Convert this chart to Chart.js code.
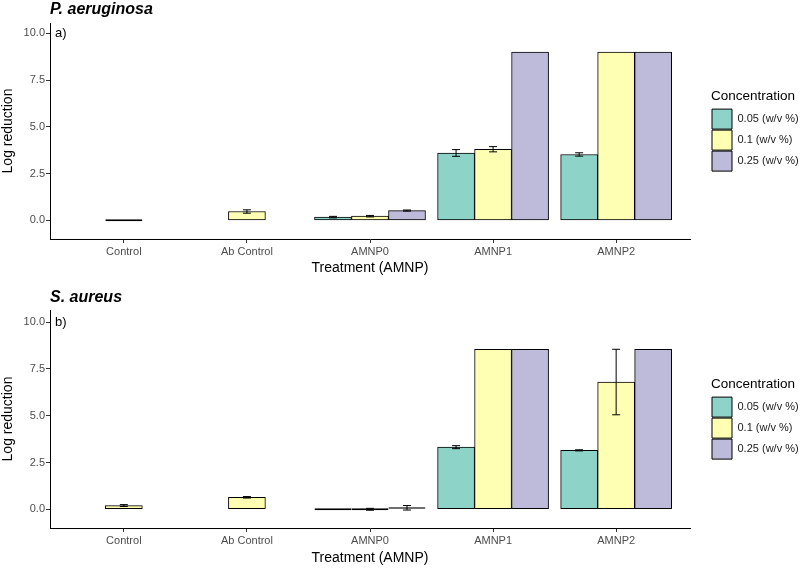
<!DOCTYPE html>
<html><head><meta charset="utf-8">
<script src="https://cdn.jsdelivr.net/npm/chart.js@4/dist/chart.umd.min.js"></script>
<style>
html,body{margin:0;padding:0;background:#fff;}
#wrap{position:relative;width:800px;height:568px;overflow:hidden;background:#fff;}
canvas{position:absolute;left:0;}
</style></head><body>
<div id="wrap">
<canvas id="cA" width="800" height="284" style="top:0"></canvas>
<canvas id="cB" width="800" height="284" style="top:284px"></canvas>
</div>
<script>
// ---- data ----
const categories = ['Control', 'Ab Control', 'AMNP0', 'AMNP1', 'AMNP2'];
const seriesLabels = ['0.05 (w/v %)', '0.1 (w/v %)', '0.25 (w/v %)'];
const yTicks = [0, 2.5, 5, 7.5, 10];

// P. aeruginosa (a)
const paeru005 = [null, null, 0.17, 3.60, 3.52];
const paeru01  = [0, 0.47, 0.22, 3.80, 9.0];
const paeru025 = [null, null, 0.52, 9.0, 9.0];
const paeruErr005 = [null, null, 0.04, 0.18, 0.09];
const paeruErr01  = [0, 0.09, 0.04, 0.14, 0];
const paeruErr025 = [null, null, 0.03, 0, 0];

// S. aureus (b)
const saur005 = [null, null, 0, 3.32, 3.15];
const saur01  = [0.20, 0.64, 0, 8.55, 6.8];
const saur025 = [null, null, 0.08, 8.55, 8.55];
const saurErr005 = [null, null, 0, 0.08, 0.03];
const saurErr01  = [0.05, 0.04, 0.05, 0, 1.75];
const saurErr025 = [null, null, 0.12, 0, 0];

const seriesColors = ['#8DD3C7', '#FFFFB3', '#BEBADA'];
const FONT = "'Liberation Sans', Arial, sans-serif";

const errorBarPlugin = {
  id: 'errorBars',
  afterDatasetsDraw(chart) {
    const ctx = chart.ctx;
    const ys = chart.scales.y;
    chart.data.datasets.forEach((ds, i) => {
      const meta = chart.getDatasetMeta(i);
      const errs = ds.errors;
      if (!errs) return;
      meta.data.forEach((bar, j) => {
        const v = ds.data[j], e = errs[j];
        if (v == null || e == null || e <= 0) return;
        const x = bar.x;
        const yt = ys.getPixelForValue(v + e), yb = ys.getPixelForValue(v - e);
        ctx.save();
        ctx.strokeStyle = '#000';
        ctx.lineWidth = 1;
        ctx.beginPath();
        ctx.moveTo(x, yt); ctx.lineTo(x, yb);
        ctx.moveTo(x - 4, yt); ctx.lineTo(x + 4, yt);
        ctx.moveTo(x - 4, yb); ctx.lineTo(x + 4, yb);
        ctx.stroke();
        ctx.restore();
      });
    });
  }
};

const panelTextPlugin = {
  id: 'panelText',
  afterDraw(chart, args, opts) {
    const ctx = chart.ctx, a = chart.chartArea;
    ctx.save();
    ctx.fillStyle = '#000';
    ctx.textAlign = 'left';
    ctx.font = 'italic bold 16px ' + FONT;
    ctx.textBaseline = 'alphabetic';
    ctx.fillText(opts.title, a.left, a.top - opts.titleGap);
    ctx.font = '13px ' + FONT;
    ctx.textBaseline = 'middle';
    ctx.fillText(opts.tag, a.left + 5, chart.scales.y.getPixelForValue(10));
    ctx.restore();
  }
};

function makeChart(id, cfg) {
  const gridOpts = { display: true, drawOnChartArea: false, drawTicks: true, tickLength: 4, color: '#333333', offset: false };
  const borderOpts = { display: true, color: '#000', width: 1 };
  return new Chart(document.getElementById(id), {
    type: 'bar',
    data: {
      labels: categories,
      datasets: cfg.series.map((d, k) => ({
        label: seriesLabels[k],
        data: d,
        errors: cfg.errors[k],
        backgroundColor: seriesColors[k],
        borderColor: '#000',
        borderWidth: 1,
        borderSkipped: false,
        inflateAmount: c => (c.raw != null && Math.abs(c.raw) < 0.1) ? 0 : 'auto',
        barThickness: 37,
        skipNull: true,
        minBarLength: 2
      }))
    },
    options: {
      responsive: false,
      animation: false,
      devicePixelRatio: 1,
      layout: { padding: { top: cfg.top, left: 0, right: 0, bottom: 0 } },
      scales: {
        x: {
          type: 'category',
          offset: true,
          grid: gridOpts,
          border: borderOpts,
          ticks: { font: { family: FONT, size: 11 }, color: '#4d4d4d', padding: 2, maxRotation: 0, autoSkip: false },
          title: { display: true, text: 'Treatment (AMNP)', font: { family: FONT, size: 14 }, color: '#000', padding: { top: 0, bottom: cfg.xTitlePad } },
          afterBuildTicks: s => { s._startValue = -0.6; s._valueRange = categories.length - 1 + 1.2; },
          afterFit: s => { s.height = cfg.xAxisH; }
        },
        y: {
          min: -1,
          max: cfg.ymax,
          grid: gridOpts,
          border: borderOpts,
          ticks: { font: { family: FONT, size: 11 }, color: '#4d4d4d', padding: 1, callback: v => Number(v).toFixed(1) },
          afterBuildTicks: s => { s.ticks = yTicks.map(v => ({ value: v })); },
          title: { display: true, text: 'Log reduction', font: { family: FONT, size: 14 }, color: '#000', padding: { top: 0, bottom: 0 } },
          afterFit: s => { s.width = 50; }
        },
        yR: {
          position: 'right',
          display: true,
          grid: { display: false },
          border: { display: false },
          ticks: { display: false },
          afterFit: s => { s.width = 21; }
        }
      },
      plugins: {
        legend: {
          position: 'right',
          align: 'center',
          fullSize: false,
          maxWidth: 89,
          title: { display: true, text: 'Concentration', color: '#000', font: { family: FONT, size: 13.5 }, position: 'start', padding: { top: 0, bottom: 2 } },
          labels: { boxWidth: 20, boxHeight: 20, padding: 1, color: '#1a1a1a', font: { family: FONT, size: 11 } }
        },
        tooltip: { enabled: false },
        panelText: { title: cfg.title, tag: cfg.tag, titleGap: cfg.titleGap }
      }
    },
    plugins: [errorBarPlugin, panelTextPlugin]
  });
}

makeChart('cA', {
  series: [paeru005, paeru01, paeru025],
  errors: [paeruErr005, paeruErr01, paeruErr025],
  title: 'P. aeruginosa', tag: 'a)', titleGap: 9.5,
  top: 23, ymax: 10.55, xAxisH: 45, xTitlePad: 7.6
});
makeChart('cB', {
  series: [saur005, saur01, saur025],
  errors: [saurErr005, saurErr01, saurErr025],
  title: 'S. aureus', tag: 'b)', titleGap: 8.5,
  top: 26, ymax: 10.65, xAxisH: 40, xTitlePad: 1.6
});
</script>
</body></html>
